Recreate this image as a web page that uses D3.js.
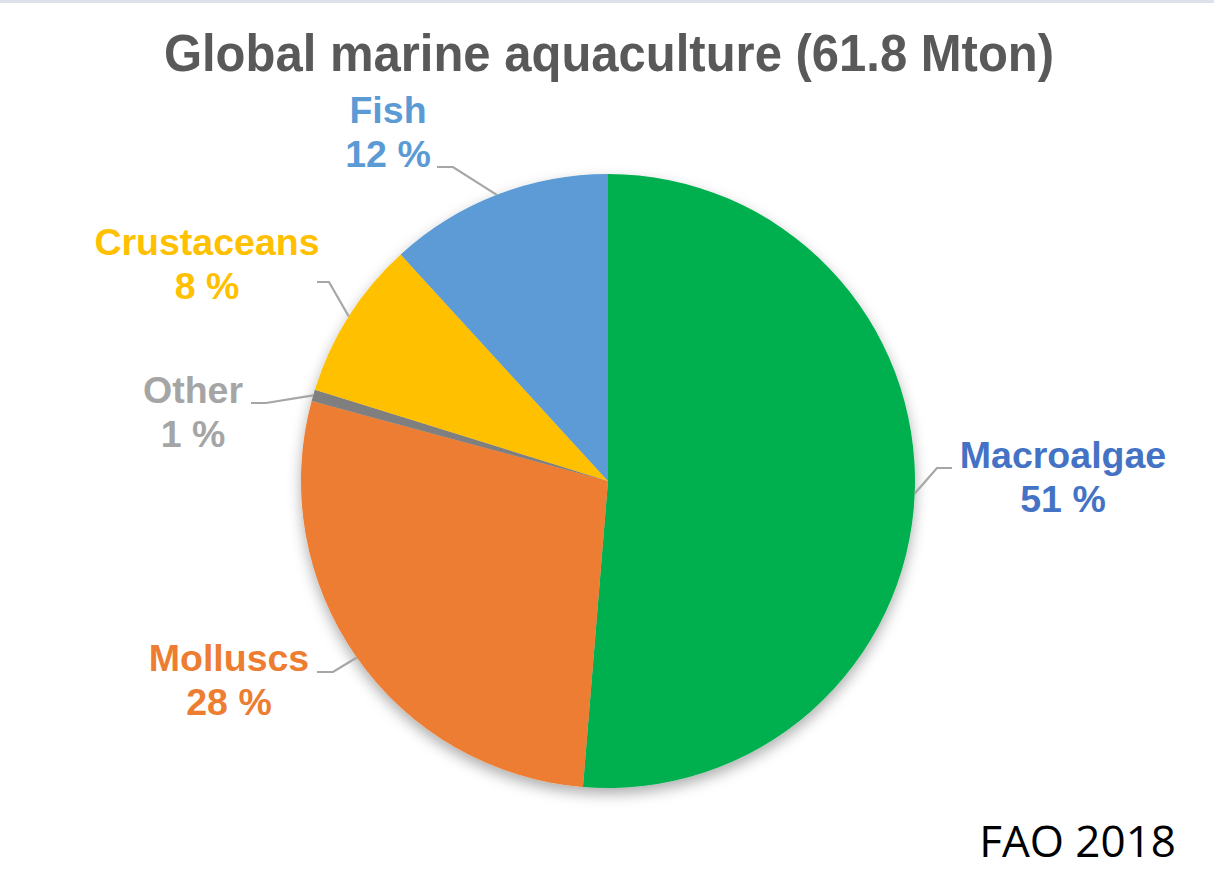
<!DOCTYPE html>
<html>
<head>
<meta charset="utf-8">
<script src="https://cdn.jsdelivr.net/npm/d3@7"></script>
<style>
  html, body { margin: 0; padding: 0; background: #fff; }
  svg { display: block; }
</style>
</head>
<body>
<div id="chart"></div>
<script>
// data, clockwise from 12 o'clock
var categories = ["Macroalgae", "Molluscs", "Other", "Crustaceans", "Fish"];
var shares = [51.3, 27.9, 0.6, 8.4, 11.8];
var sliceColors = ["#00b050", "#ed7d31", "#7f7f7f", "#ffc000", "#5b9bd5"];
var labelColors = ["#4472c4", "#ed7d31", "#a5a5a5", "#ffc000", "#5b9bd5"];
var titleText = "Global marine aquaculture (61.8 Mton)";
var sourceText = "FAO 2018";

// label layout: text centre x, first baseline y, leader start, elbow
var labelLayout = {
  "Macroalgae":  { x: 1063, y: 468, lx: 952, ly: 468, ex: 937 },
  "Molluscs":    { x: 229,  y: 671, lx: 317, ly: 672, ex: 333 },
  "Other":       { x: 193,  y: 403, lx: 251, ly: 403, ex: 266 },
  "Crustaceans": { x: 207,  y: 255, lx: 317, ly: 282, ex: 329 },
  "Fish":        { x: 388,  y: 123, lx: 437, ly: 167, ex: 453 }
};

var attrs = {
  width: 1214,
  height: 876,
  cx: 608,
  cy: 481,
  radius: 307,
  lineHeight: 44
};

var svg = d3.select("#chart")
  .append("svg")
  .attr("width", attrs.width)
  .attr("height", attrs.height);

// soft shadow under the pie
var defs = svg.append("defs");
var shadow = defs.append("filter")
  .attr("id", "pieShadow")
  .attr("x", "-10%").attr("y", "-10%")
  .attr("width", "120%").attr("height", "125%");
shadow.append("feDropShadow")
  .attr("dx", 0).attr("dy", 6)
  .attr("stdDeviation", 7)
  .attr("flood-color", "#000")
  .attr("flood-opacity", 0.32);

// faint strip at the top edge
svg.append("rect")
  .attr("x", 0).attr("y", 0)
  .attr("width", attrs.width).attr("height", 3)
  .attr("fill", "#dfe1ea");

svg.append("text")
  .attr("transform", "translate(609,71) scale(1,1.06)")
  .attr("text-anchor", "middle")
  .attr("font-family", "'Liberation Sans', Arial, sans-serif")
  .attr("font-weight", "bold")
  .attr("font-size", 49)
  .attr("fill", "#595959")
  .text(titleText);

var data = categories.map(function (c, i) {
  return { name: c, value: shares[i], color: sliceColors[i], labelColor: labelColors[i] };
});

var pie = d3.pie()
  .sort(null)
  .startAngle(0)
  .endAngle(2 * Math.PI)
  .value(function (d) { return d.value; });

var arc = d3.arc()
  .innerRadius(0)
  .outerRadius(attrs.radius);

var arcs = pie(data);

var pieG = svg.append("g")
  .attr("transform", "translate(" + [attrs.cx, attrs.cy] + ")");

pieG.append("g")
  .attr("filter", "url(#pieShadow)")
  .selectAll("path")
  .data(arcs)
  .enter()
  .append("path")
  .attr("d", arc)
  .attr("fill", function (d) { return d.data.color; });

// leader lines: from label, short horizontal, then to the rim at mid angle
var leaders = svg.append("g");
arcs.forEach(function (d) {
  var lay = labelLayout[d.data.name];
  var mid = (d.startAngle + d.endAngle) / 2;
  var rx = attrs.cx + attrs.radius * Math.sin(mid);
  var ry = attrs.cy - attrs.radius * Math.cos(mid);
  leaders.append("polyline")
    .attr("points", [[lay.lx, lay.ly], [lay.ex, lay.ly], [rx, ry]].join(" "))
    .attr("fill", "none")
    .attr("stroke", "#a6a6a6")
    .attr("stroke-width", 2.2);
});

var labels = svg.append("g")
  .attr("font-family", "'Liberation Sans', Arial, sans-serif")
  .attr("font-weight", "bold")
  .attr("font-size", 37.5)
  .attr("text-anchor", "middle");

arcs.forEach(function (d) {
  var lay = labelLayout[d.data.name];
  var t = labels.append("text")
    .attr("fill", d.data.labelColor);
  t.append("tspan")
    .attr("x", lay.x).attr("y", lay.y)
    .text(d.data.name);
  t.append("tspan")
    .attr("x", lay.x).attr("y", lay.y + attrs.lineHeight)
    .text(Math.round(d.data.value) + " %");
});

svg.append("text")
  .attr("x", 1176)
  .attr("y", 857)
  .attr("text-anchor", "end")
  .attr("font-family", "'Open Sans', 'Noto Sans', sans-serif")
  .attr("font-size", 44)
  .attr("fill", "#000")
  .text(sourceText);
</script>
</body>
</html>
